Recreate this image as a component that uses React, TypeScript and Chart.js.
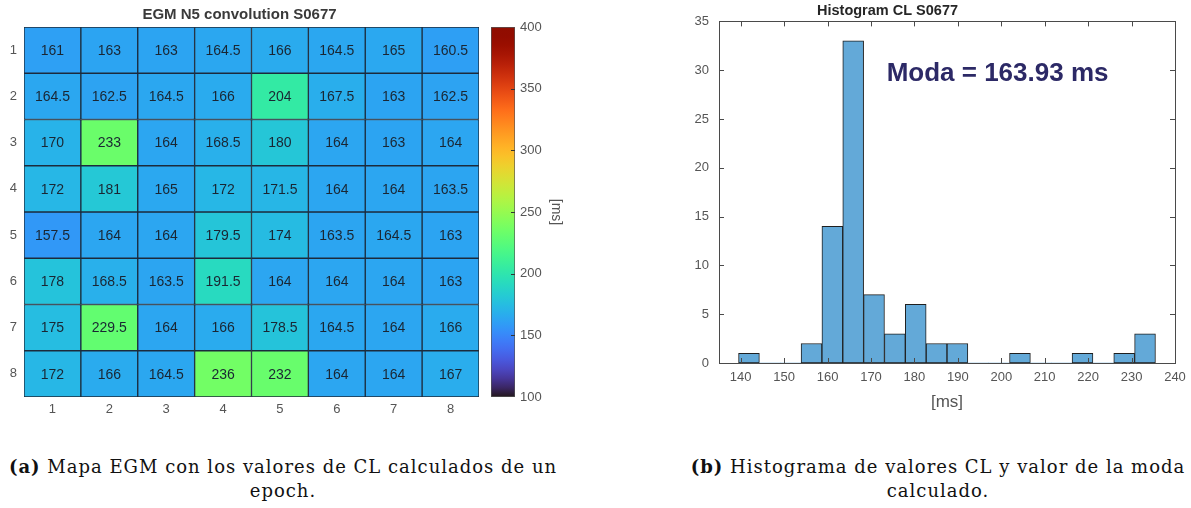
import React, { useEffect, useRef } from "react";
import { Chart, registerables } from "chart.js";

Chart.register(...registerables);

// ---------- data ----------
const heatTitle = "EGM N5 convolution S0677";
const colLabels = ["1", "2", "3", "4", "5", "6", "7", "8"];
const rowLabels = ["1", "2", "3", "4", "5", "6", "7", "8"];
const row1 = [161, 163, 163, 164.5, 166, 164.5, 165, 160.5];
const row2 = [164.5, 162.5, 164.5, 166, 204, 167.5, 163, 162.5];
const row3 = [170, 233, 164, 168.5, 180, 164, 163, 164];
const row4 = [172, 181, 165, 172, 171.5, 164, 164, 163.5];
const row5 = [157.5, 164, 164, 179.5, 174, 163.5, 164.5, 163];
const row6 = [178, 168.5, 163.5, 191.5, 164, 164, 164, 163];
const row7 = [175, 229.5, 164, 166, 178.5, 164.5, 164, 166];
const row8 = [172, 166, 164.5, 236, 232, 164, 164, 167];
const rows = [row1, row2, row3, row4, row5, row6, row7, row8];
const cbMin = 100;
const cbMax = 400;
const cbTitle = "[ms]";

const histTitle = "Histogram CL S0677";
const binCenters = [141.9, 146.7, 151.5, 156.3, 161.1, 165.9, 170.7, 175.5, 180.3, 185.1, 189.9, 194.7, 199.5, 204.3, 209.1, 213.9, 218.7, 223.5, 228.3, 233.1];
const binCounts = [1, 0, 0, 2, 14, 33, 7, 3, 6, 2, 2, 0, 0, 1, 0, 0, 1, 0, 1, 3];
const histXTitle = "[ms]";
const modaText = "Moda = 163.93 ms";
const modaPos = { x: 173.6, y: 29.6 };

const captionA1 = "Mapa EGM con los valores de CL calculados de un";
const captionA2 = "epoch.";
const captionB1 = "Histograma de valores CL y valor de la moda";
const captionB2 = "calculado.";

// ---------- helpers ----------
const SANS = "'Liberation Sans', Arial, sans-serif";
const TICK = "#555555";

function turbo(t: number): string {
  t = Math.min(1, Math.max(0, t));
  const r = 0.13572138 + t * (4.6153926 + t * (-42.66032258 + t * (132.13108234 + t * (-152.94239396 + t * 59.28637943))));
  const g = 0.09140261 + t * (2.19418839 + t * (4.84296658 + t * (-14.18503333 + t * (4.27729857 + t * 2.82956604))));
  const b = 0.1066733 + t * (12.64194608 + t * (-60.58204836 + t * (110.36276771 + t * (-89.90310912 + t * 27.34824973))));
  const c = (v: number) => Math.round(Math.min(1, Math.max(0, v)) * 255);
  return `rgb(${c(r)},${c(g)},${c(b)})`;
}
const norm = (v: number) => (v - cbMin) / (cbMax - cbMin);

const cellLabelPlugin = {
  id: "cellLabels",
  afterDatasetsDraw(chart: any) {
    const ctx = chart.ctx;
    ctx.save();
    ctx.font = `14px ${SANS}`;
    ctx.fillStyle = "#1a2633";
    ctx.textAlign = "center";
    ctx.textBaseline = "middle";
    chart.data.datasets.forEach((ds: any, di: number) => {
      const meta = chart.getDatasetMeta(di);
      meta.data.forEach((el: any, i: number) => {
        ctx.fillText(String(ds.values[i]), el.x, (el.y + el.base) / 2 + 1);
      });
    });
    ctx.restore();
  },
};

function drawInnerTicks(ctx: any, scale: any, ca: any, side: string, len: number, skipEnds: boolean) {
  scale.ticks.forEach((t: any, i: number) => {
    if (skipEnds && (i === 0 || i === scale.ticks.length - 1)) return;
    const p = Math.round(scale.getPixelForValue(t.value)) + 0.5;
    ctx.beginPath();
    if (side === "bottom") { ctx.moveTo(p, ca.bottom); ctx.lineTo(p, ca.bottom - len); }
    if (side === "top") { ctx.moveTo(p, ca.top); ctx.lineTo(p, ca.top + len); }
    if (side === "left") { ctx.moveTo(ca.left, p); ctx.lineTo(ca.left + len, p); }
    if (side === "right") { ctx.moveTo(ca.right, p); ctx.lineTo(ca.right - len, p); }
    ctx.stroke();
  });
}

const histBoxPlugin = {
  id: "histBox",
  afterDatasetsDraw(chart: any) {
    const { ctx, chartArea: ca, scales } = chart;
    ctx.save();
    ctx.strokeStyle = "#4a4a4a";
    ctx.lineWidth = 1;
    ctx.strokeRect(Math.round(ca.left) + 0.5, Math.round(ca.top) + 0.5, Math.round(ca.right - ca.left), Math.round(ca.bottom - ca.top));
    drawInnerTicks(ctx, scales.x, ca, "bottom", 5, false);
    drawInnerTicks(ctx, scales.x, ca, "top", 5, false);
    drawInnerTicks(ctx, scales.y, ca, "left", 5, true);
    drawInnerTicks(ctx, scales.y, ca, "right", 5, true);
    // annotation
    ctx.font = `bold 26px ${SANS}`;
    ctx.fillStyle = "#2c2966";
    ctx.textAlign = "left";
    ctx.textBaseline = "middle";
    ctx.fillText(modaText, scales.x.getPixelForValue(modaPos.x), scales.y.getPixelForValue(modaPos.y));
    ctx.restore();
  },
};

const cbTickPlugin = {
  id: "cbTicks",
  afterDatasetsDraw(chart: any) {
    const { ctx, chartArea: ca, scales } = chart;
    ctx.save();
    ctx.strokeStyle = "#333333";
    ctx.lineWidth = 1;
    drawInnerTicks(ctx, scales.y, ca, "right", 4, true);
    ctx.restore();
  },
};

function noPad(s: any) {
  s.paddingTop = 0;
  s.paddingBottom = 0;
  s.paddingLeft = 0;
  s.paddingRight = 0;
}

export default function App() {
  const heatRef = useRef<HTMLCanvasElement>(null);
  const cbRef = useRef<HTMLCanvasElement>(null);
  const histRef = useRef<HTMLCanvasElement>(null);

  useEffect(() => {
    const heat = new Chart(heatRef.current as HTMLCanvasElement, {
      type: "bar",
      data: {
        labels: colLabels,
        datasets: rows.map((row) => ({
          data: row.map(() => 1),
          values: row,
          backgroundColor: row.map((v) => turbo(norm(v))),
          borderColor: "#1c2b3c",
          borderWidth: 1,
          borderSkipped: false,
          barPercentage: 1,
          categoryPercentage: 1,
        })) as any,
      },
      options: {
        responsive: false,
        animation: false,
        events: [],
        layout: { padding: { left: 0, right: 7, top: 0, bottom: 0 } },
        plugins: {
          legend: { display: false },
          tooltip: { enabled: false },
          title: {
            display: true,
            text: heatTitle,
            color: "#3a3a3a",
            font: { family: SANS, size: 15, weight: "bold" },
            padding: { top: 6, bottom: 3 },
          },
        },
        scales: {
          x: {
            type: "category",
            stacked: true,
            grid: { display: false, drawTicks: false },
            border: { display: false },
            ticks: { color: TICK, font: { family: SANS, size: 13 }, padding: 5 },
            afterFit: (s: any) => { s.height = 28; noPad(s); },
          },
          y: {
            type: "linear",
            stacked: true,
            reverse: true,
            min: 0,
            max: rowLabels.length,
            grid: { display: false, drawTicks: false },
            border: { display: false },
            afterBuildTicks: (s: any) => { s.ticks = rowLabels.map((_, i) => ({ value: i + 0.5 })); },
            ticks: {
              color: TICK,
              font: { family: SANS, size: 13 },
              padding: 7,
              callback: (_v: any, i: number) => rowLabels[i],
            },
            afterFit: (s: any) => { s.width = 24; noPad(s); },
          },
        },
      } as any,
      plugins: [cellLabelPlugin],
    });

    const cb = new Chart(cbRef.current as HTMLCanvasElement, {
      type: "bar",
      data: {
        labels: [""],
        datasets: [
          {
            data: [[cbMin, cbMax]] as any,
            backgroundColor: (c: any) => {
              const ca = c.chart.chartArea;
              if (!ca) return turbo(0.5);
              const g = c.chart.ctx.createLinearGradient(0, ca.bottom, 0, ca.top);
              for (let i = 0; i <= 40; i++) g.addColorStop(i / 40, turbo(i / 40));
              return g;
            },
            borderColor: "#555555",
            borderWidth: 1,
            borderSkipped: false,
            barPercentage: 1,
            categoryPercentage: 1,
          },
        ],
      },
      options: {
        responsive: false,
        animation: false,
        events: [],
        layout: { padding: { left: 5, right: 0, top: 27, bottom: 28 } },
        plugins: { legend: { display: false }, tooltip: { enabled: false } },
        scales: {
          x: { display: false },
          y: {
            position: "right",
            min: cbMin,
            max: cbMax,
            grid: { display: false, drawTicks: false },
            border: { display: false },
            ticks: { stepSize: 50, color: TICK, font: { family: SANS, size: 13 }, padding: 5 },
            title: {
              display: true,
              text: cbTitle,
              color: TICK,
              font: { family: SANS, size: 14 },
              padding: { top: 16, bottom: 0 },
            },
            afterFit: (s: any) => { s.width = 65; noPad(s); },
          },
        },
      } as any,
      plugins: [cbTickPlugin],
    });

    const hist = new Chart(histRef.current as HTMLCanvasElement, {
      type: "bar",
      data: {
        datasets: [
          {
            data: binCenters.map((x, i) => ({ x, y: binCounts[i] })),
            backgroundColor: "#63a9d8",
            borderColor: "#1f1f1f",
            borderWidth: (c: any) => (c.raw && c.raw.y > 0 ? 1 : 0),
            borderSkipped: false,
            barPercentage: 1,
            categoryPercentage: 1,
          },
        ],
      },
      options: {
        responsive: false,
        animation: false,
        events: [],
        layout: { padding: { left: 0, right: 16, top: 0, bottom: 0 } },
        plugins: {
          legend: { display: false },
          tooltip: { enabled: false },
          title: {
            display: true,
            text: histTitle,
            color: "#262626",
            font: { family: SANS, size: 14.5, weight: "bold" },
            padding: { top: 2, bottom: 2 },
          },
        },
        scales: {
          x: {
            type: "linear",
            min: 135,
            max: 240,
            offset: false,
            grid: { display: false, drawTicks: false },
            border: { display: false },
            ticks: { stepSize: 10, includeBounds: false, color: TICK, font: { family: SANS, size: 13 }, padding: 7 },
            title: {
              display: true,
              text: histXTitle,
              color: TICK,
              font: { family: SANS, size: 17 },
              padding: { top: 0, bottom: 12 },
            },
            afterFit: (s: any) => { s.height = 62; noPad(s); },
          },
          y: {
            type: "linear",
            min: 0,
            max: 35,
            grid: { display: false, drawTicks: false },
            border: { display: false },
            ticks: { stepSize: 5, color: TICK, font: { family: SANS, size: 13 }, padding: 10 },
            afterFit: (s: any) => { s.width = 119; noPad(s); },
          },
        },
      } as any,
      plugins: [histBoxPlugin],
    });

    return () => {
      heat.destroy();
      cb.destroy();
      hist.destroy();
    };
  }, []);

  const capStyle: React.CSSProperties = {
    position: "absolute",
    top: 455,
    textAlign: "center",
    whiteSpace: "nowrap",
    fontFamily: "'DejaVu Serif', serif",
    fontSize: 18,
    lineHeight: "24px",
    color: "#111",
    letterSpacing: "1px",
  };

  return (
    <div style={{ position: "absolute", left: 0, top: 0, width: 1191, height: 508, background: "#fff", overflow: "hidden" }}>
      <canvas ref={heatRef} width={486} height={425} style={{ position: "absolute", left: 0, top: 0 }} />
      <canvas ref={cbRef} width={94} height={425} style={{ position: "absolute", left: 486, top: 0 }} />
      <canvas ref={histRef} width={591} height={425} style={{ position: "absolute", left: 600, top: 0 }} />
      <div style={{ ...capStyle, left: 0, width: 566 }}>
        <b>(a)</b> {captionA1}
        <br />
        {captionA2}
      </div>
      <div style={{ ...capStyle, left: 685, width: 506 }}>
        <b>(b)</b> {captionB1}
        <br />
        {captionB2}
      </div>
    </div>
  );
}
